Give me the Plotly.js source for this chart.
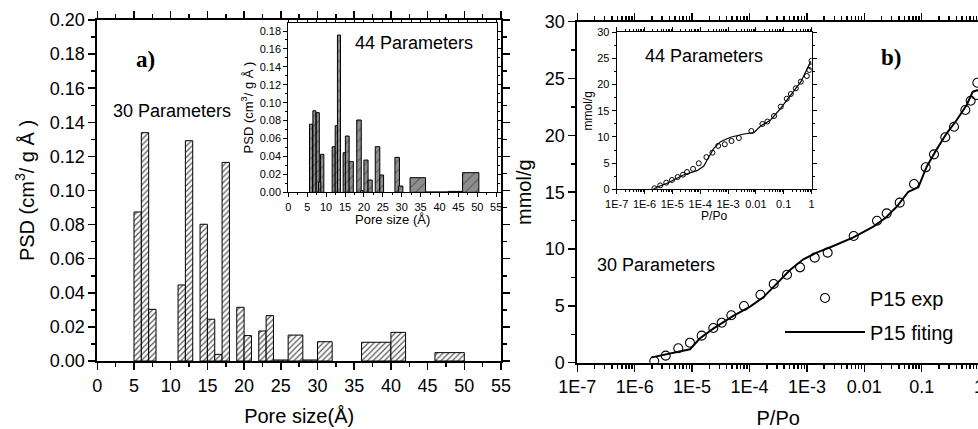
<!DOCTYPE html>
<html>
<head>
<meta charset="utf-8">
<script src="https://cdn.plot.ly/plotly-3.0.1.min.js"></script>
<style>
html,body{margin:0;padding:0;overflow:hidden;background:#fff;}
#chart{width:990px;height:429px;}
</style>
</head>
<body>
<div id="chart"></div>
<script>
// ---------- DATA ----------
// a) main PSD, 30 parameters: bin edges (Å) and PSD values (cm3/g Å)
const psd30Left  = [5, 6, 7, 11, 12, 14, 15, 16, 17, 19, 20, 22, 23, 24, 26, 28, 30, 36, 40, 46];
const psd30Right = [6, 7, 8, 12, 13, 15, 16, 17, 18, 20, 21, 23, 24, 26, 28, 30, 32, 40, 42, 50];
const psd30Value = [0.0874, 0.1339, 0.0303, 0.0446, 0.1292, 0.0802, 0.0245, 0.0039, 0.1165, 0.0315,
                    0.0149, 0.0176, 0.0266, 0.0006, 0.0152, 0.0006, 0.0113, 0.0110, 0.0168, 0.0049];

// a) inset PSD, 44 parameters
const psd44Left  = [5.6, 6.5, 7.4, 8.5, 8.0, 11.6, 12.4, 13.0, 14.5, 15.1, 16.1, 18.1, 19.1, 20.0, 21.1,
                    23.0, 24.2, 28.2, 29.1, 32.2, 36.3, 42.3, 46.1];
const psd44Right = [6.4, 7.3, 8.2, 9.4, 8.6, 12.4, 13.2, 13.8, 15.3, 16.1, 17.2, 19.3, 19.8, 21.1, 22.2,
                    24.2, 25.2, 29.4, 30.3, 36.3, 42.3, 46.1, 50.4];
const psd44Value = [0.0760, 0.0910, 0.0889, 0.0424, 0.0115, 0.0509, 0.0743, 0.1755, 0.0442, 0.0628, 0.0342,
                    0.0807, 0.0020, 0.0360, 0.0137, 0.0509, 0.0193, 0.0390, 0.0070, 0.0163, 0.0004, 0.0010, 0.0219];

// b) main isotherm, 30 parameters
const expP = [2.19e-6, 3.47e-6, 5.75e-6, 9.18e-6, 1.47e-5, 2.34e-5, 3.28e-5, 4.82e-5, 8.02e-5, 1.55e-4,
              2.64e-4, 4.50e-4, 7.59e-4, 1.37e-3, 2.30e-3, 6.53e-3, 0.01663, 0.02455, 0.0414, 0.0735,
              0.1175, 0.1637, 0.2576, 0.3656, 0.5754, 0.7129, 0.8831, 0.931];
const expN = [0.15, 0.62, 1.27, 1.76, 2.38, 3.05, 3.52, 4.17, 4.99, 5.98,
              6.92, 7.74, 8.39, 9.24, 9.68, 11.15, 12.49, 13.14, 14.08, 15.72,
              17.19, 18.33, 19.83, 20.76, 22.23, 23.05, 23.55, 24.63];
const fitP = [1.98e-6, 9.18e-6, 1.374e-5, 2.34e-5, 5.22e-5, 1.023e-4, 1.738e-4, 2.98e-4, 5.08e-4, 8.67e-4,
              1.479e-3, 2.884e-3, 6.46e-3, 0.01435, 0.02291, 0.03664, 0.0585, 0.0873, 0.1222, 0.1824,
              0.2723, 0.4074, 0.6081, 0.7727, 0.955];
const fitN = [0.47, 1.18, 2.15, 3.00, 4.11, 4.93, 5.75, 6.98, 8.16, 9.10,
              9.68, 10.27, 11.03, 11.97, 12.70, 13.72, 15.04, 15.43, 17.24, 18.77,
              20.18, 21.35, 22.67, 23.84, 23.99];

// b) inset isotherm, 44 parameters
const insExpP = [2.275e-6, 3.66e-6, 6.03e-6, 9.68e-6, 1.549e-5, 2.415e-5, 3.365e-5, 5.55e-5, 8.91e-5, 1.675e-4,
                 2.754e-4, 4.43e-4, 7.66e-4, 1.337e-3, 2.455e-3, 6.89e-3, 0.01718, 0.026, 0.045, 0.0785,
                 0.1294, 0.1803, 0.2735, 0.414, 0.682, 0.826, 0.951, 1.0];
const insExpN = [0.2, 0.75, 1.27, 1.78, 2.35, 2.8, 3.3, 3.9, 4.97, 6.15,
                 7.0, 8.3, 8.6, 9.23, 9.8, 11.14, 12.48, 12.95, 14.0, 15.79,
                 17.31, 18.21, 19.3, 20.56, 21.65, 22.8, 23.43, 24.57];
const insFitP = [2.09e-6, 2.75e-6, 6.46e-6, 2.51e-5, 7.76e-5, 1.349e-4, 1.778e-4, 3.09e-4, 5.37e-4, 1.23e-3,
                 3.72e-3, 8.51e-3, 0.01479, 0.0339, 0.0776, 0.1778, 0.4169, 0.933];
const insFitN = [0.0, 0.38, 1.15, 2.73, 3.56, 4.45, 5.6, 7.83, 9.1, 9.94,
                 10.57, 10.82, 12.1, 13.24, 15.48, 18.02, 20.56, 24.4];

// tick labels
const logTickVals = [1e-7, 1e-6, 1e-5, 1e-4, 1e-3, 0.01, 0.1, 1];
const logTickText = ['1E-7', '1E-6', '1E-5', '1E-4', '1E-3', '0.01', '0.1', '1'];

// ---------- LAYOUT HELPERS ----------
const W = 990, H = 429;
const px = v => v / W;
const py = v => (H - v) / H;
const FONT = 'Liberation Sans, Arial, sans-serif';

const minorLog = [];
for (let d = -7; d < 0; d++) for (let k = 2; k <= 9; k++) minorLog.push(k * Math.pow(10, d));

const centers = (l, r) => l.map((v, i) => (v + r[i]) / 2);
const widths  = (l, r) => l.map((v, i) => r[i] - v);

const traces = [
  {
    type: 'bar', xaxis: 'x', yaxis: 'y', showlegend: false,
    x: centers(psd30Left, psd30Right), width: widths(psd30Left, psd30Right), y: psd30Value,
    marker: {color: '#555', line: {color: '#000', width: 1},
             pattern: {shape: '/', bgcolor: '#ffffff', fgcolor: '#5a5a5a', size: 4, solidity: 0.32}}
  },
  {
    type: 'bar', xaxis: 'x2', yaxis: 'y2', showlegend: false,
    x: centers(psd44Left, psd44Right), width: widths(psd44Left, psd44Right), y: psd44Value,
    marker: {color: '#555', line: {color: '#000', width: 1},
             pattern: {shape: '/', bgcolor: '#8e8e8e', fgcolor: '#5a5a5a', size: 7, solidity: 0.15}}
  },
  {
    type: 'scatter', mode: 'markers', xaxis: 'x3', yaxis: 'y3', name: 'P15 exp', legend: 'legend',
    x: expP, y: expN, cliponaxis: true,
    marker: {symbol: 'circle-open', size: 9, color: '#000', line: {width: 1.1, color: '#000'}}
  },
  {
    type: 'scatter', mode: 'lines', xaxis: 'x3', yaxis: 'y3', name: 'P15 fiting', legend: 'legend2',
    x: fitP, y: fitN, line: {color: '#000', width: 2}
  },
  {
    type: 'scatter', mode: 'markers', xaxis: 'x4', yaxis: 'y4', showlegend: false,
    x: insExpP, y: insExpN,
    marker: {symbol: 'circle-open', size: 5, color: '#000', line: {width: 1, color: '#000'}}
  },
  {
    type: 'scatter', mode: 'lines', xaxis: 'x4', yaxis: 'y4', showlegend: false,
    x: insFitP, y: insFitN, line: {color: '#000', width: 1.2}
  }
];

const mainAxis = {
  showline: true, linewidth: 2, linecolor: '#000', mirror: 'ticks',
  ticks: 'outside', ticklen: 7, tickwidth: 1.5, tickcolor: '#000',
  showgrid: false, zeroline: false, tickfont: {size: 18, color: '#000'},
  title: {font: {size: 20, color: '#000'}}
};
const insetAxis = {
  showline: true, linewidth: 1, linecolor: '#000', mirror: 'ticks',
  ticks: 'outside', ticklen: 4, tickwidth: 1, tickcolor: '#000',
  showgrid: false, zeroline: false, tickfont: {size: 11, color: '#000'},
  title: {font: {size: 13, color: '#000'}}
};

const layout = {
  width: W, height: H,
  margin: {l: 0, r: 0, t: 0, b: 0, pad: 0},
  paper_bgcolor: '#fff', plot_bgcolor: '#fff',
  font: {family: FONT, color: '#000'},
  barmode: 'overlay',
  xaxis: Object.assign({}, mainAxis, {
    domain: [px(97.3), px(501)], range: [0, 55], tickmode: 'linear', tick0: 0, dtick: 5,
    minor: {dtick: 2.5, ticks: 'outside', ticklen: 4, tickcolor: '#000', showgrid: false},
    title: {text: 'Pore size(Å)', font: {size: 20}, standoff: 14}, anchor: 'y'
  }),
  yaxis: Object.assign({}, mainAxis, {
    domain: [py(361), py(20)], range: [0, 0.2], tickmode: 'linear', tick0: 0, dtick: 0.02, tickformat: '.2f',
    minor: {dtick: 0.01, ticks: 'outside', ticklen: 4, tickcolor: '#000', showgrid: false},
    title: {text: 'PSD (cm<sup>3</sup>/ g Å )', font: {size: 20}, standoff: 10}, anchor: 'x'
  }),
  xaxis2: Object.assign({}, insetAxis, {
    domain: [px(288.3), px(497)], range: [0, 55.2], tickmode: 'linear', tick0: 0, dtick: 5,
    minor: {dtick: 2.5, ticks: 'outside', ticklen: 2, tickcolor: '#000', showgrid: false},
    title: {text: 'Pore size (Å)', font: {size: 13}, standoff: 3}, anchor: 'y2'
  }),
  yaxis2: Object.assign({}, insetAxis, {
    domain: [py(192.3), py(22.7)], range: [0, 0.1893], tickmode: 'linear', tick0: 0, dtick: 0.02, tickformat: '.2f',
    minor: {dtick: 0.01, ticks: 'outside', ticklen: 2, tickcolor: '#000', showgrid: false},
    title: {text: 'PSD (cm<sup>3</sup>/ g Å )', font: {size: 13}, standoff: 3}, anchor: 'x2'
  }),
  xaxis3: Object.assign({}, mainAxis, {
    type: 'log', domain: [px(577.3), px(979.1)], range: [-7, 0],
    tickmode: 'array', tickvals: logTickVals, ticktext: logTickText,
    minor: {tickmode: 'array', tickvals: minorLog, ticks: 'outside', ticklen: 4, tickcolor: '#000', showgrid: false},
    title: {text: 'P/Po', font: {size: 20}, standoff: 18}, anchor: 'y3'
  }),
  yaxis3: Object.assign({}, mainAxis, {
    domain: [py(362.7), py(21.7)], range: [0, 30], tickmode: 'linear', tick0: 0, dtick: 5,
    minor: {dtick: 2.5, ticks: 'outside', ticklen: 4, tickcolor: '#000', showgrid: false},
    title: {text: 'mmol/g', font: {size: 20}, standoff: 8}, anchor: 'x3'
  }),
  xaxis4: Object.assign({}, insetAxis, {
    type: 'log', domain: [px(616.7), px(811.5)], range: [-7, 0],
    tickmode: 'array', tickvals: logTickVals, ticktext: logTickText,
    minor: {tickmode: 'array', tickvals: minorLog, ticks: 'outside', ticklen: 2, tickcolor: '#000', showgrid: false},
    title: {text: 'P/Po', font: {size: 12}, standoff: 2}, anchor: 'y4'
  }),
  yaxis4: Object.assign({}, insetAxis, {
    domain: [py(189.3), py(32.3)], range: [0, 30], tickmode: 'linear', tick0: 0, dtick: 5,
    minor: {dtick: 2.5, ticks: 'outside', ticklen: 2, tickcolor: '#000', showgrid: false},
    title: {text: 'mmol/g', font: {size: 12}, standoff: 2}, anchor: 'x4'
  }),
  legend: {
    x: px(780), y: py(298), xanchor: 'left', yanchor: 'middle',
    bgcolor: 'rgba(0,0,0,0)', borderwidth: 0, font: {size: 20, color: '#000'}, itemwidth: 80
  },
  legend2: {
    x: px(780), y: py(332), xanchor: 'left', yanchor: 'middle',
    bgcolor: 'rgba(0,0,0,0)', borderwidth: 0, font: {size: 20, color: '#000'}, itemwidth: 80
  },
  annotations: [
    {text: '<b>a)</b>', xref: 'paper', yref: 'paper', x: px(134), y: py(59), xanchor: 'left', yanchor: 'middle',
     showarrow: false, font: {family: 'Liberation Serif, Times New Roman, serif', size: 23, color: '#000'}},
    {text: '<b>b)</b>', xref: 'paper', yref: 'paper', x: px(879), y: py(58), xanchor: 'left', yanchor: 'middle',
     showarrow: false, font: {family: 'Liberation Serif, Times New Roman, serif', size: 23, color: '#000'}},
    {text: '30 Parameters', xref: 'paper', yref: 'paper', x: px(111), y: py(110.5), xanchor: 'left', yanchor: 'middle',
     showarrow: false, font: {size: 18, color: '#000'}},
    {text: '44 Parameters', xref: 'paper', yref: 'paper', x: px(353), y: py(42.5), xanchor: 'left', yanchor: 'middle',
     showarrow: false, font: {size: 18, color: '#000'}},
    {text: '30 Parameters', xref: 'paper', yref: 'paper', x: px(594.5), y: py(265), xanchor: 'left', yanchor: 'middle',
     showarrow: false, font: {size: 18, color: '#000'}},
    {text: '44 Parameters', xref: 'paper', yref: 'paper', x: px(642.5), y: py(55.5), xanchor: 'left', yanchor: 'middle',
     showarrow: false, font: {size: 18, color: '#000'}}
  ]
};

Plotly.newPlot('chart', traces, layout, {staticPlot: true, displayModeBar: false});
</script>
</body>
</html>
